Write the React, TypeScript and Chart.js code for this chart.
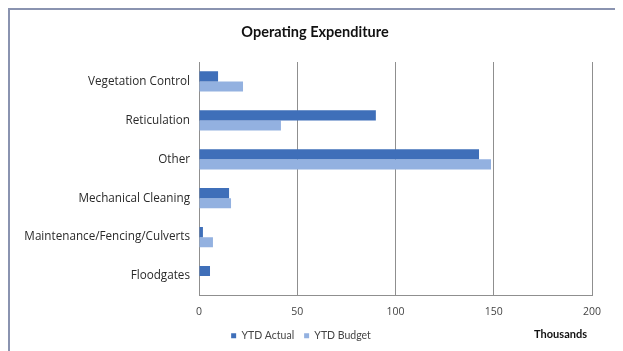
import React, { useEffect, useRef } from "react";
import { Chart, registerables } from "chart.js";

Chart.register(...registerables);

const categories = [
  "Vegetation Control",
  "Reticulation",
  "Other",
  "Mechanical Cleaning",
  "Maintenance/Fencing/Culverts",
  "Floodgates",
];
const ytdActual = [9.7, 90, 142.5, 15.3, 2, 5.6];
const ytdBudget = [22.4, 41.7, 148.6, 16.3, 7.1, 0];
const xTicks = [0, 50, 100, 150, 200];
const chartTitle = "Operating Expenditure";
const xAxisTitle = "Thousands";

const FONT = "Lato, 'Open Sans', sans-serif";
const FONT2 = "'Open Sans', Lato, sans-serif";

export default function App() {
  const ref = useRef<HTMLCanvasElement | null>(null);

  useEffect(() => {
    if (!ref.current) return;
    const overlay = {
      id: "overlay",
      afterDraw(chart: any) {
        const ctx = chart.ctx;
        ctx.save();
        ctx.fillStyle = "#111";
        ctx.font = `bold 14.5px ${FONT}`;
        ctx.textAlign = "center";
        ctx.textBaseline = "middle";
        ctx.fillText(chartTitle, chart.width / 2, 22);
        ctx.font = `bold 11px ${FONT}`;
        ctx.textAlign = "right";
        ctx.fillText(xAxisTitle, chart.chartArea.right - 5, 324);
        ctx.restore();
      },
    };
    const chart = new Chart(ref.current, {
      type: "bar",
      data: {
        labels: categories,
        datasets: [
          {
            label: "YTD Actual",
            data: ytdActual,
            backgroundColor: "#3F6FB9",
            categoryPercentage: 0.52,
            barPercentage: 1,
          },
          {
            label: "YTD Budget",
            data: ytdBudget,
            backgroundColor: "#93B1E0",
            categoryPercentage: 0.52,
            barPercentage: 1,
          },
        ],
      },
      options: {
        indexAxis: "y",
        animation: false,
        responsive: false,
        layout: { padding: { top: 52, right: 28, bottom: 0, left: 0 } },
        scales: {
          x: {
            min: 0,
            max: 200,
            afterBuildTicks(scale: any) {
              scale.ticks = xTicks.map((v) => ({ value: v }));
            },
            afterFit(scale: any) {
              scale.height = 25;
            },
            grid: { color: "#8f8f8f", lineWidth: 1, drawTicks: false },
            border: { display: true, color: "#8f8f8f" },
            ticks: {
              padding: 10,
              color: "#444",
              font: { family: FONT2, size: 10.5 },
            },
          },
          y: {
            afterFit(scale: any) {
              scale.width = 189;
            },
            grid: { display: false, drawTicks: false },
            border: { display: true, color: "#8f8f8f" },
            ticks: {
              padding: 9,
              color: "#2a2a2a",
              font: { family: FONT2, size: 11.7 },
            },
          },
        },
        plugins: {
          title: { display: false },
          tooltip: { enabled: false },
          legend: {
            position: "bottom",
            labels: {
              boxWidth: 5,
              boxHeight: 5,
              padding: 10,
              color: "#444",
              font: { family: FONT, size: 10.5 },
            },
          },
        },
      },
      plugins: [overlay],
    });
    return () => chart.destroy();
  }, []);

  return (
    <div
      style={{
        position: "relative",
        width: 614,
        height: 343,
        borderTop: "2px solid #8a93b0",
        borderLeft: "2px solid #8a93b0",
        borderRight: "1px solid #dfe2ea",
        boxSizing: "border-box",
        background: "#fff",
      }}
    >
      <canvas ref={ref} width={610} height={341} style={{ display: "block" }} />
    </div>
  );
}
